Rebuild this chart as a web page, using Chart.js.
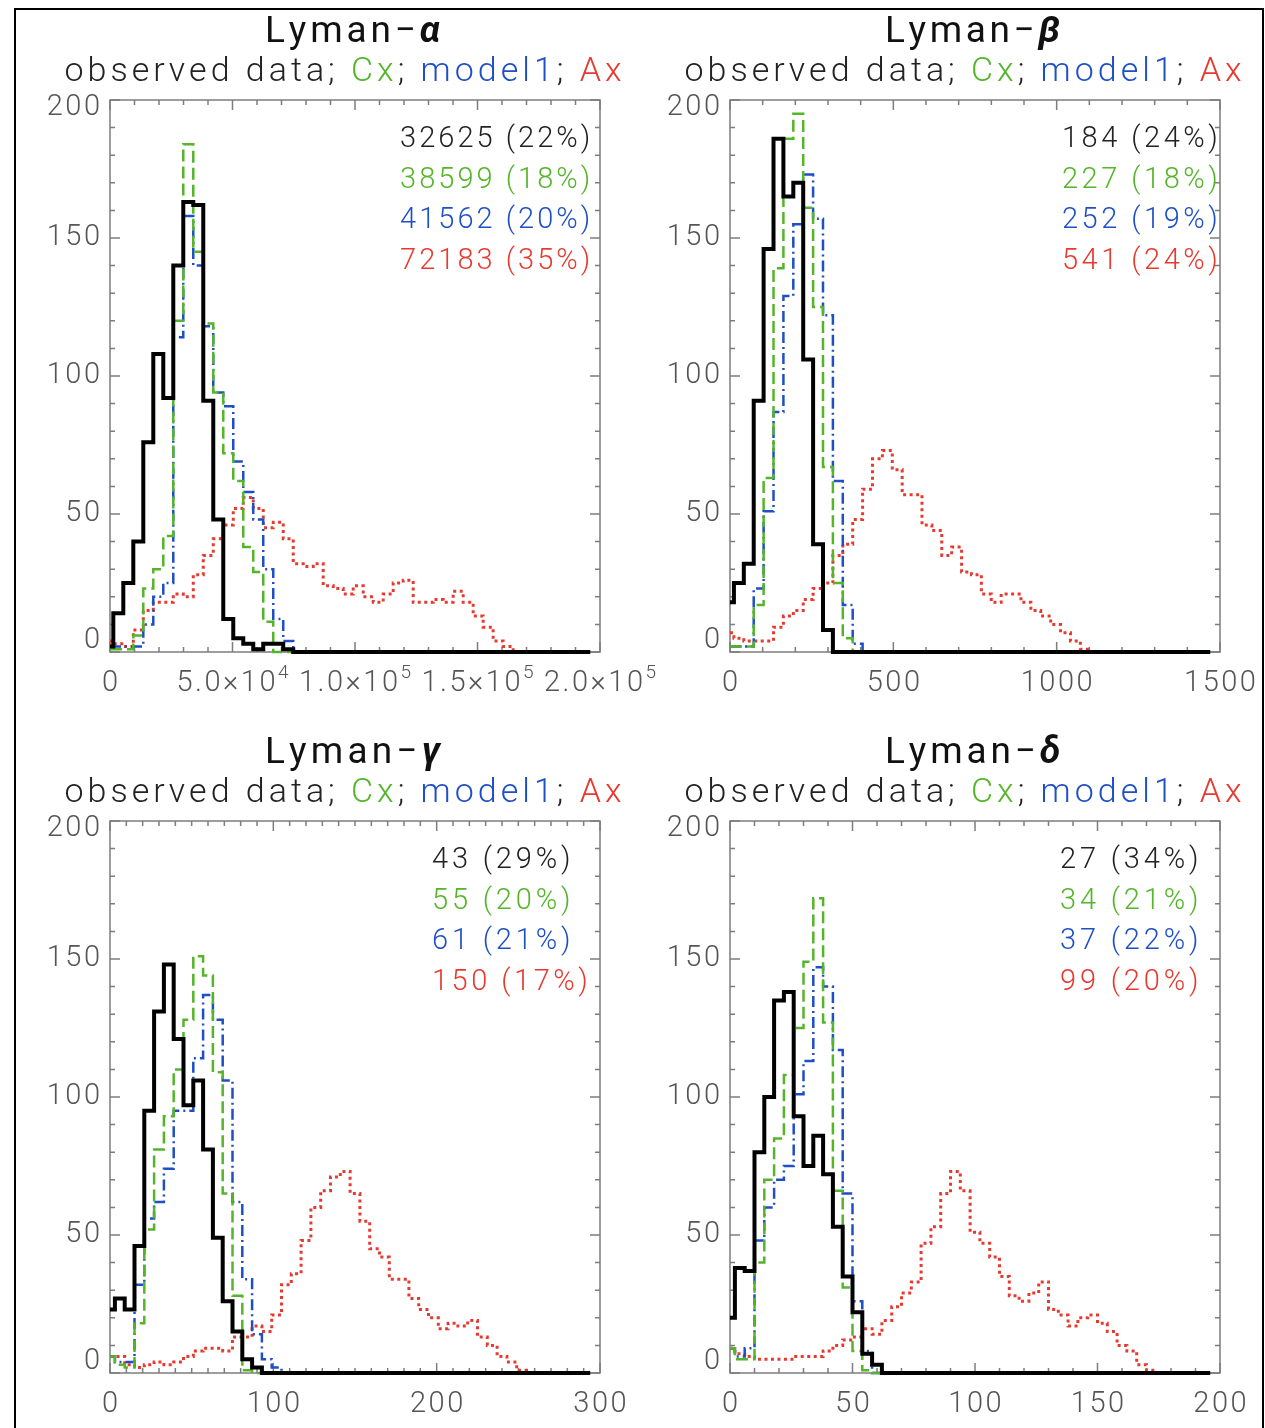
<!DOCTYPE html>
<html>
<head>
<meta charset="utf-8">
<script src="https://cdn.jsdelivr.net/npm/chart.js@4.4.1/dist/chart.umd.min.js"></script>
<style>
  body { margin: 0; background: #fff; width: 1265px; height: 1428px; position: relative; overflow: hidden; }
  #frame { position: absolute; left: 14px; top: 8px; width: 1246px; height: 1460px; border: 2px solid #000; }
  canvas { position: absolute; }
</style>
</head>
<body>
<div id="frame"></div>
<canvas id="c1"></canvas>
<canvas id="c2"></canvas>
<canvas id="c3"></canvas>
<canvas id="c4"></canvas>
<script>
// colours / fonts
const FONT = 'Roboto, Lato, "DejaVu Sans", sans-serif';
const C_OBS = '#111111', C_CX = '#55b52a', C_MOD = '#1f4fc6', C_AX = '#e63a30';
const AXIS = '#7d7d7d', TICKTXT = '#555555';

const yTicks = [0, 50, 100, 150, 200];
const legendNames = ['observed data', 'Cx', 'model1', 'Ax'];

// ---- Lyman-alpha ----
const lyaXTicks = [0, 5e4, 1e5, 1.5e5, 2e5];
const lyaXLabels = ['0', '5.0×10^4', '1.0×10^5', '1.5×10^5', '2.0×10^5'];
const lyaBinStart = 1350, lyaBinWidth = 4080, lyaHistEnd = 196000;
// first value = level from x=0 up to the first bin edge
const lyaObs    = [2, 14, 25, 40, 76, 108, 92, 140, 163, 162, 91, 48, 12, 5, 3, 1, 3, 3, 1, 0];
const lyaCx     = [1, 1, 1, 6, 23, 30, 42, 120, 184, 145, 119, 94, 72, 62, 38, 29, 11, 0];
const lyaModel1 = [2, 2, 2, 2, 10, 20, 25, 114, 158, 140, 118, 94, 89, 69, 58, 48, 30, 12, 4, 0];
const lyaAx     = [4, 3, 2, 8, 15, 18, 18, 21, 20, 28, 35, 41, 46, 52, 56, 52, 45, 47, 41, 32, 31,
                   32, 24, 23, 21, 24, 20, 18, 21, 25, 26, 18, 18, 19, 18, 22, 18, 13, 9, 4, 2, 0];
const lyaStats  = ['32625 (22%)', '38599 (18%)', '41562 (20%)', '72183 (35%)'];

// ---- Lyman-beta ----
const lybXTicks = [0, 500, 1000, 1500];
const lybXLabels = ['0', '500', '1000', '1500'];
const lybBinStart = 12, lybBinWidth = 30.3, lybHistEnd = 1470;
const lybObs    = [18, 25, 32, 91, 146, 186, 165, 170, 106, 39, 8, 0];
const lybCx     = [2, 2, 2, 17, 63, 139, 186, 195, 161, 125, 67, 25, 5, 0];
const lybModel1 = [2, 2, 2, 23, 51, 87, 129, 155, 173, 157, 122, 62, 17, 3, 0];
const lybAx     = [7, 5, 4, 4, 4, 9, 13, 15, 19, 23, 25, 35, 39, 48, 59, 70, 73, 66, 57, 57,
                   46, 44, 35, 38, 29, 28, 21, 18, 21, 21, 18, 15, 13, 10, 7, 4, 1, 0];
const lybStats  = ['184 (24%)', '227 (18%)', '252 (19%)', '541 (24%)'];

// ---- Lyman-gamma ----
const lygXTicks = [0, 100, 200, 300];
const lygXLabels = ['0', '100', '200', '300'];
const lygBinStart = 3, lygBinWidth = 6, lygHistEnd = 294;
const lygObs    = [23, 27, 23, 46, 95, 131, 148, 121, 97, 106, 81, 49, 26, 15, 5, 2, 0];
const lygCx     = [6, 3, 2, 18, 52, 81, 93, 110, 128, 151, 144, 109, 65, 28, 1, 0];
const lygModel1 = [6, 4, 4, 32, 56, 62, 74, 95, 95, 114, 137, 128, 106, 62, 34, 14, 5, 2, 0];
const lygAx     = [6, 6, 3, 2, 3, 4, 3, 4, 6, 8, 9, 9, 8, 13, 13, 17, 15, 21, 32, 36, 48, 60,
                   66, 71, 73, 65, 55, 45, 42, 34, 34, 27, 23, 20, 16, 18, 17, 19, 13, 10, 6, 4, 1, 0];
const lygStats  = ['43 (29%)', '55 (20%)', '61 (21%)', '150 (17%)'];

// ---- Lyman-delta ----
const lydXTicks = [0, 50, 100, 150, 200];
const lydXLabels = ['0', '50', '100', '150', '200'];
const lydBinStart = 2, lydBinWidth = 4, lydHistEnd = 196;
const lydObs    = [20, 38, 37, 80, 100, 135, 138, 93, 75, 86, 72, 53, 35, 22, 7, 3, 0];
const lydCx     = [9, 5, 5, 40, 70, 85, 108, 125, 149, 172, 127, 66, 31, 8, 1, 0];
const lydModel1 = [9, 6, 9, 48, 60, 70, 75, 101, 113, 147, 140, 117, 65, 26, 8, 0];
const lydAx     = [9, 7, 6, 5, 5, 5, 5, 6, 6, 6, 8, 10, 12, 13, 16, 14, 19, 24, 29, 33, 47, 53,
                   65, 73, 66, 51, 47, 42, 35, 28, 26, 29, 33, 23, 21, 17, 20, 21, 18, 15, 10, 8, 3, 1, 0];
const lydStats  = ['27 (34%)', '34 (21%)', '37 (22%)', '99 (20%)'];

// panel layout (page px)
const panels = [
  { id: 'c1', greek: 'α', left: 20, top: 0, w: 645, h: 715, pad: { left: 90, right: 65, top: 100, bottom: 63 },
    xMax: 2e5, xMinor: 1e4, xEvery: 5, xTicks: lyaXTicks, xLabels: lyaXLabels,
    bins: [lyaBinStart, lyaBinWidth, lyaHistEnd], series: [lyaObs, lyaCx, lyaModel1, lyaAx], stats: lyaStats, statsDx: 290 },
  { id: 'c2', greek: 'β', left: 665, top: 0, w: 600, h: 715, pad: { left: 65, right: 45, top: 100, bottom: 63 },
    xMax: 1500, xMinor: 100, xEvery: 5, xTicks: lybXTicks, xLabels: lybXLabels,
    bins: [lybBinStart, lybBinWidth, lybHistEnd], series: [lybObs, lybCx, lybModel1, lybAx], stats: lybStats, statsDx: 332 },
  { id: 'c3', greek: 'γ', left: 20, top: 715, w: 645, h: 713, pad: { left: 90, right: 65, top: 106, bottom: 55 },
    xMax: 300, xMinor: 10, xEvery: 10, xTicks: lygXTicks, xLabels: lygXLabels,
    bins: [lygBinStart, lygBinWidth, lygHistEnd], series: [lygObs, lygCx, lygModel1, lygAx], stats: lygStats, statsDx: 322 },
  { id: 'c4', greek: 'δ', left: 665, top: 715, w: 600, h: 713, pad: { left: 65, right: 45, top: 106, bottom: 55 },
    xMax: 200, xMinor: 10, xEvery: 5, xTicks: lydXTicks, xLabels: lydXLabels,
    bins: [lydBinStart, lydBinWidth, lydHistEnd], series: [lydObs, lydCx, lydModel1, lydAx], stats: lydStats, statsDx: 330 }
];

// histogram -> step points (value holds until next edge)
function histPoints(counts, start, width, end) {
  const pts = [{ x: 0, y: counts[0] }];
  for (let i = 1; i < counts.length; i++) pts.push({ x: start + (i - 1) * width, y: counts[i] });
  pts.push({ x: end, y: 0 });
  return pts;
}

// draw text char by char with extra spacing (or fitted to a width)
function drawParts(ctx, parts, x, y, align, fit, spacing) {
  const chars = [];
  for (const p of parts) {
    ctx.font = p.font;
    for (const ch of p.t) chars.push({ ch, font: p.font, color: p.color, dy: p.dy || 0, w: ctx.measureText(ch).width });
  }
  const raw = chars.reduce((s, c) => s + c.w, 0);
  const gap = fit ? (fit - raw) / Math.max(1, chars.length - 1) : (spacing || 0);
  const total = raw + gap * (chars.length - 1);
  let cx = align === 'center' ? x - total / 2 : align === 'right' ? x - total : x;
  ctx.textAlign = 'left';
  for (const c of chars) {
    ctx.font = c.font;
    ctx.fillStyle = c.color;
    ctx.fillText(c.ch, cx, y + c.dy);
    cx += c.w + gap;
  }
}

function decor(p) {
  return {
    id: 'decor',
    beforeDatasetsDraw(chart) {
      const { ctx, chartArea: a, scales: { x, y } } = chart;
      ctx.save();
      ctx.strokeStyle = AXIS;
      ctx.lineWidth = 1.5;
      ctx.strokeRect(a.left, a.top, a.right - a.left, a.bottom - a.top);
      ctx.beginPath();
      const nx = Math.round(p.xMax / p.xMinor);
      for (let i = 0; i <= nx; i++) {
        const px = x.getPixelForValue(i * p.xMinor);
        const len = i % p.xEvery === 0 ? 10 : 5;
        ctx.moveTo(px, a.bottom); ctx.lineTo(px, a.bottom - len);
        ctx.moveTo(px, a.top); ctx.lineTo(px, a.top + len);
      }
      for (let v = 0; v <= 200; v += 10) {
        const py = y.getPixelForValue(v);
        const len = v % 50 === 0 ? 10 : 5;
        ctx.moveTo(a.left, py); ctx.lineTo(a.left + len, py);
        ctx.moveTo(a.right, py); ctx.lineTo(a.right - len, py);
      }
      ctx.stroke();
      ctx.restore();
    },
    afterDraw(chart) {
      const { ctx, chartArea: a, scales: { x, y } } = chart;
      const mid = (a.left + a.right) / 2;
      ctx.save();
      ctx.textBaseline = 'alphabetic';
      // title
      drawParts(ctx, [
        { t: 'Lyman\u2212', font: `400 37px ${FONT}`, color: '#111' },
        { t: p.greek, font: `italic 700 37px ${FONT}`, color: '#111' }
      ], mid - 2.5, a.top - 58, 'center', 175);
      // subtitle
      const sub = `300 34px ${FONT}`;
      drawParts(ctx, [
        { t: legendNames[0] + '; ', font: sub, color: '#222' },
        { t: legendNames[1], font: sub, color: C_CX },
        { t: '; ', font: sub, color: '#222' },
        { t: legendNames[2], font: sub, color: C_MOD },
        { t: '; ', font: sub, color: '#222' },
        { t: legendNames[3], font: sub, color: C_AX }
      ], mid - 12, a.top - 19, 'center', 557);
      // stats lines
      const cols = ['#222', C_CX, C_MOD, C_AX];
      p.stats.forEach((s, i) => {
        drawParts(ctx, [{ t: s, font: `300 29px ${FONT}`, color: cols[i] }],
          a.left + p.statsDx, a.top + 47 + 40.7 * i, 'left', 17.3 * s.length);
      });
      // y tick labels
      ctx.textBaseline = 'middle';
      yTicks.forEach(v => {
        const py = Math.min(Math.max(y.getPixelForValue(v), a.top + 8), a.bottom - 11);
        drawParts(ctx, [{ t: String(v), font: `300 29px ${FONT}`, color: TICKTXT }], a.left - 10, py, 'right', 0, 2.5);
      });
      // x tick labels
      p.xTicks.forEach((v, i) => {
        const [base, exp] = p.xLabels[i].split('^');
        const parts = [{ t: base, font: `300 29px ${FONT}`, color: TICKTXT }];
        if (exp) parts.push({ t: exp, font: `300 19px ${FONT}`, color: TICKTXT, dy: -11 });
        drawParts(ctx, parts, x.getPixelForValue(v), a.bottom + 32, 'center', 0, 2.5);
      });
      ctx.restore();
    }
  };
}

const styles = [
  { borderColor: '#000', borderWidth: 4, borderDash: [] },
  { borderColor: C_CX, borderWidth: 2.5, borderDash: [12, 5] },
  { borderColor: C_MOD, borderWidth: 2.5, borderDash: [11, 4, 2, 4] },
  { borderColor: C_AX, borderWidth: 3, borderDash: [3, 3.5] }
];

panels.forEach(p => {
  const el = document.getElementById(p.id);
  el.width = p.w; el.height = p.h;
  el.style.left = p.left + 'px'; el.style.top = p.top + 'px';
  const [start, width, end] = p.bins;
  new Chart(el.getContext('2d'), {
    type: 'line',
    data: {
      datasets: p.series.map((s, i) => ({
        label: legendNames[i],
        data: histPoints(s, start, width, end),
        stepped: true,
        pointRadius: 0,
        fill: false,
        clip: 4,
        ...styles[i]
      }))
    },
    options: {
      responsive: false,
      animation: false,
      layout: { padding: p.pad, autoPadding: false },
      plugins: { legend: { display: false }, tooltip: { enabled: false } },
      scales: {
        x: { type: 'linear', min: 0, max: p.xMax, display: false },
        y: { min: 0, max: 200, display: false }
      }
    },
    plugins: [decor(p)]
  });
});
</script>
</body>
</html>
